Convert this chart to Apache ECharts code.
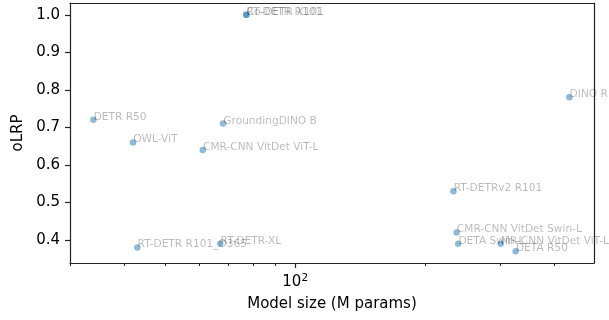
<!DOCTYPE html>
<html>
<head>
<meta charset="utf-8">
<script src="https://cdn.jsdelivr.net/npm/echarts@6/dist/echarts.min.js"></script>
<style>
  html, body { margin: 0; padding: 0; background: #fff; }
  #chart { width: 609px; height: 320px; }
</style>
</head>
<body>
<div id="chart"></div>
<script>
// Detectors: model size (millions of parameters) against oLRP
const modelNames = [
  'RT-DETR R101', 'Co-DETR X101', 'DETR R50', 'OWL-ViT', 'GroundingDINO B',
  'CMR-CNN VitDet ViT-L', 'DINO R', 'RT-DETR R101_O365', 'RT-DETR-XL',
  'RT-DETRv2 R101', 'CMR-CNN VitDet Swin-L', 'DETA Swin-L',
  'MR-CNN VitDet ViT-L', 'DETA R50'
];
const modelSize = [77, 77, 34, 42, 68, 61, 433, 43, 67, 233, 237, 239, 300, 325];
const oLRP = [1.0, 1.0, 0.72, 0.66, 0.71, 0.64, 0.78, 0.38, 0.39, 0.53, 0.42, 0.39, 0.39, 0.37];

const xMajorTicks = [100];
const xMinorTicks = [30, 40, 50, 60, 70, 80, 90, 200, 300, 400];
const yTicks = [0.4, 0.5, 0.6, 0.7, 0.8, 0.9, 1.0];

const points = modelNames.map((n, i) => ({ name: n, value: [modelSize[i], oLRP[i]] }));

const FONT = 'DejaVu Sans';
const AXIS_COLOR = '#222';
const LINE_W = 1.2;
const xMin = 30, xMax = 494;
const yMin = 0.3385, yMax = 1.0315;

// tick axes work in decades (log10 of the size) over the same span as the data axis
const decMin = Math.log10(xMin), decMax = Math.log10(xMax);
const hidden = { axisLine: { show: false }, axisTick: { show: false }, axisLabel: { show: false }, splitLine: { show: false } };
const frameAxis = {
  axisLine: { show: true, lineStyle: { color: AXIS_COLOR, width: LINE_W } },
  axisTick: { show: false }, axisLabel: { show: false }, splitLine: { show: false }
};

const chart = echarts.init(document.getElementById('chart'));
chart.setOption({
  animation: false,
  backgroundColor: '#fff',
  textStyle: { fontFamily: FONT },
  grid: { left: 70, right: 15, top: 3, bottom: 57 },
  xAxis: [
    {
      // data axis (log scale)
      type: 'log', logBase: 10, min: xMin, max: xMax, position: 'bottom',
      name: 'Model size (M params)', nameLocation: 'middle', nameGap: 34,
      nameTextStyle: { fontSize: 15, color: '#000', fontFamily: FONT },
      axisLine: { show: true, lineStyle: { color: AXIS_COLOR, width: LINE_W } },
      axisTick: { show: false }, axisLabel: { show: false }, splitLine: { show: false }
    },
    Object.assign({}, hidden, {
      // major decade tick and its label
      type: 'value', min: decMin, max: decMax, position: 'bottom',
      axisTick: { show: true, customValues: xMajorTicks.map(v => Math.log10(v)), length: 5, lineStyle: { color: AXIS_COLOR, width: LINE_W } },
      axisLabel: {
        show: true, customValues: xMajorTicks.map(v => Math.log10(v)), margin: 10,
        formatter: v => '{b|10}{s|' + Math.round(v) + '}',
        rich: {
          b: { fontSize: 15, fontFamily: FONT, color: '#000' },
          s: { fontSize: 10.5, fontFamily: FONT, color: '#000', verticalAlign: 'top', padding: [0, 0, 8, 0] }
        }
      }
    }),
    Object.assign({}, hidden, {
      // minor ticks 30..90, 200..400
      type: 'value', min: decMin, max: decMax, position: 'bottom',
      axisTick: { show: true, customValues: xMinorTicks.map(v => Math.log10(v)), length: 3, lineStyle: { color: AXIS_COLOR, width: 1 } }
    }),
    Object.assign({ type: 'value', min: decMin, max: decMax, position: 'top' }, frameAxis)
  ],
  yAxis: [
    {
      type: 'value', min: yMin, max: yMax, position: 'left',
      name: 'oLRP', nameLocation: 'middle', nameGap: 41,
      nameTextStyle: { fontSize: 15, color: '#000', fontFamily: FONT },
      axisLine: { show: true, lineStyle: { color: AXIS_COLOR, width: LINE_W } },
      axisTick: { show: true, customValues: yTicks, length: 5, lineStyle: { color: AXIS_COLOR, width: LINE_W } },
      axisLabel: {
        show: true, customValues: yTicks, margin: 10, fontSize: 15, color: '#000', fontFamily: FONT,
        formatter: v => Number(v).toFixed(1)
      },
      splitLine: { show: false }
    },
    Object.assign({ type: 'value', min: yMin, max: yMax, position: 'right' }, frameAxis)
  ],
  series: [{
    type: 'scatter',
    xAxisIndex: 0,
    yAxisIndex: 0,
    data: points,
    symbolSize: 6.5,
    clip: false,
    itemStyle: { color: '#1f77b4', opacity: 0.5 },
    label: {
      show: true,
      formatter: p => p.name,
      position: [3.5, 6],
      align: 'left',
      verticalAlign: 'bottom',
      fontSize: 10.6,
      fontFamily: FONT,
      color: 'rgba(0,0,0,0.55)'
    },
    labelLayout: { hideOverlap: false },
    emphasis: { disabled: true }
  }]
});
</script>
</body>
</html>
